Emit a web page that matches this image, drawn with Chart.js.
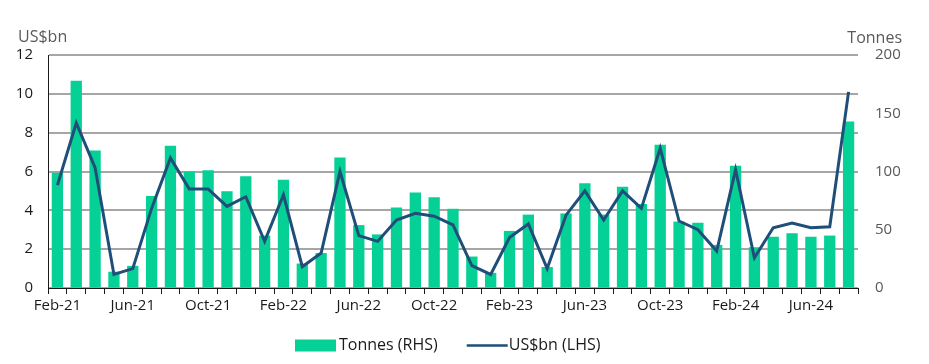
<!DOCTYPE html>
<html>
<head>
<meta charset="utf-8">
<script src="https://cdn.jsdelivr.net/npm/chart.js@4/dist/chart.umd.min.js"></script>
<style>
  html, body { margin: 0; padding: 0; background: #fff; }
  #wrap { width: 929px; height: 364px; position: relative; }
</style>
</head>
<body>
<div id="wrap"><canvas id="chart"></canvas></div>
<script>
const months = [
  'Feb-21','Mar-21','Apr-21','May-21','Jun-21','Jul-21','Aug-21','Sep-21','Oct-21','Nov-21','Dec-21',
  'Jan-22','Feb-22','Mar-22','Apr-22','May-22','Jun-22','Jul-22','Aug-22','Sep-22','Oct-22','Nov-22','Dec-22',
  'Jan-23','Feb-23','Mar-23','Apr-23','May-23','Jun-23','Jul-23','Aug-23','Sep-23','Oct-23','Nov-23','Dec-23',
  'Jan-24','Feb-24','Mar-24','Apr-24','May-24','Jun-24','Jul-24','Aug-24'
]

// tonnes, right axis
const tonnes = [
  99, 178, 118, 14, 19, 79, 122, 100, 101, 83, 96,
  45, 93, 21, 30, 112, 54, 46, 69, 82, 78, 68, 27,
  13, 49, 63, 18, 64, 90, 63, 87, 72, 123, 57, 56,
  37, 105, 35, 44, 47, 44, 45, 143
]

// US$bn, left axis
const usdbn = [
  5.3, 8.5, 6.2, 0.7, 1.0, 4.1, 6.7, 5.1, 5.1, 4.2, 4.7,
  2.4, 4.8, 1.1, 1.8, 6.0, 2.7, 2.4, 3.5, 3.85, 3.7, 3.25, 1.15,
  0.7, 2.6, 3.3, 1.0, 3.75, 5.0, 3.5, 5.0, 4.1, 7.2, 3.45, 3.0,
  1.9, 6.1, 1.55, 3.1, 3.35, 3.1, 3.15, 10.1
]

const leftTicks = [0, 2, 4, 6, 8, 10, 12]
const rightTicks = [0, 50, 100, 150, 200]

const COLORS = {
  green: '#05d096',
  navy: '#1f4e79',
  grid: '#a6a6a6',
  black: '#1a1a1a',
  grey: '#595959'
}

const FONT = "'Open Sans', 'Noto Sans', sans-serif"

// unit captions above the axes + legend row under the chart
const extras = {
  id: 'extras',
  afterDraw(chart) {
    const ctx = chart.ctx
    const ds = chart.data.datasets
    ctx.save()
    ctx.font = '16px ' + FONT
    ctx.fillStyle = COLORS.grey
    ctx.textBaseline = 'middle'
    ctx.textAlign = 'left'
    ctx.fillText('US$bn', 18, 37)
    ctx.textAlign = 'right'
    ctx.fillText('Tonnes', 902, 38)

    // legend
    ctx.font = '16px ' + FONT
    ctx.textAlign = 'left'
    const y = 345.5
    let x = 295
    ctx.fillStyle = ds[0].backgroundColor
    ctx.fillRect(x, y - 6, 41, 12)
    ctx.fillStyle = COLORS.black
    ctx.fillText(ds[0].label, x + 44, y)
    x += 44 + ctx.measureText(ds[0].label).width + 29
    ctx.strokeStyle = ds[1].borderColor
    ctx.lineWidth = 2.5
    ctx.beginPath()
    ctx.moveTo(x, y)
    ctx.lineTo(x + 41, y)
    ctx.stroke()
    ctx.fillText(ds[1].label, x + 42, y)
    ctx.restore()
  }
}

const ctx = document.getElementById('chart')

new Chart(ctx, {
  type: 'bar',
  data: {
    labels: months,
    datasets: [
      {
        label: 'Tonnes (RHS)',
        data: tonnes,
        yAxisID: 'y1',
        backgroundColor: COLORS.green,
        categoryPercentage: 1,
        barPercentage: 0.6,
        order: 1
      },
      {
        type: 'line',
        label: 'US$bn (LHS)',
        data: usdbn,
        yAxisID: 'y',
        borderColor: COLORS.navy,
        backgroundColor: COLORS.navy,
        borderWidth: 3,
        pointRadius: 0,
        tension: 0,
        order: 0
      }
    ]
  },
  options: {
    responsive: true,
    maintainAspectRatio: false,
    animation: false,
    layout: { padding: { top: 55, bottom: 42, left: 0, right: 0 } },
    plugins: {
      tooltip: { enabled: false },
      legend: { display: false }
    },
    scales: {
      x: {
        offset: true,
        grid: {
          offset: true,
          drawOnChartArea: false,
          color: COLORS.black,
          tickLength: 6
        },
        border: { color: COLORS.black, width: 1 },
        ticks: {
          autoSkip: false,
          maxRotation: 0,
          padding: 3,
          color: COLORS.black,
          font: { family: FONT, size: 15 },
          callback: (v, i) => (i % 4 === 0 ? months[i] : '')
        },
        afterFit: (s) => { s.height = 34 }
      },
      y: {
        position: 'left',
        min: 0,
        max: 12,
        afterBuildTicks: (s) => { s.ticks = leftTicks.map(v => ({ value: v })) },
        grid: { color: COLORS.grid, lineWidth: 2, drawTicks: false },
        border: { color: COLORS.black, width: 1 },
        ticks: {
          padding: 15,
          color: COLORS.black,
          font: { family: FONT, size: 15 }
        },
        afterFit: (s) => { s.width = 48 }
      },
      y1: {
        position: 'right',
        min: 0,
        max: 200,
        afterBuildTicks: (s) => { s.ticks = rightTicks.map(v => ({ value: v })) },
        grid: { drawOnChartArea: false, drawTicks: false },
        border: { display: false },
        ticks: {
          padding: 17,
          color: COLORS.grey,
          font: { family: FONT, size: 15 }
        },
        afterFit: (s) => { s.width = 71 }
      }
    }
  },
  plugins: [extras]
})
</script>
</body>
</html>
